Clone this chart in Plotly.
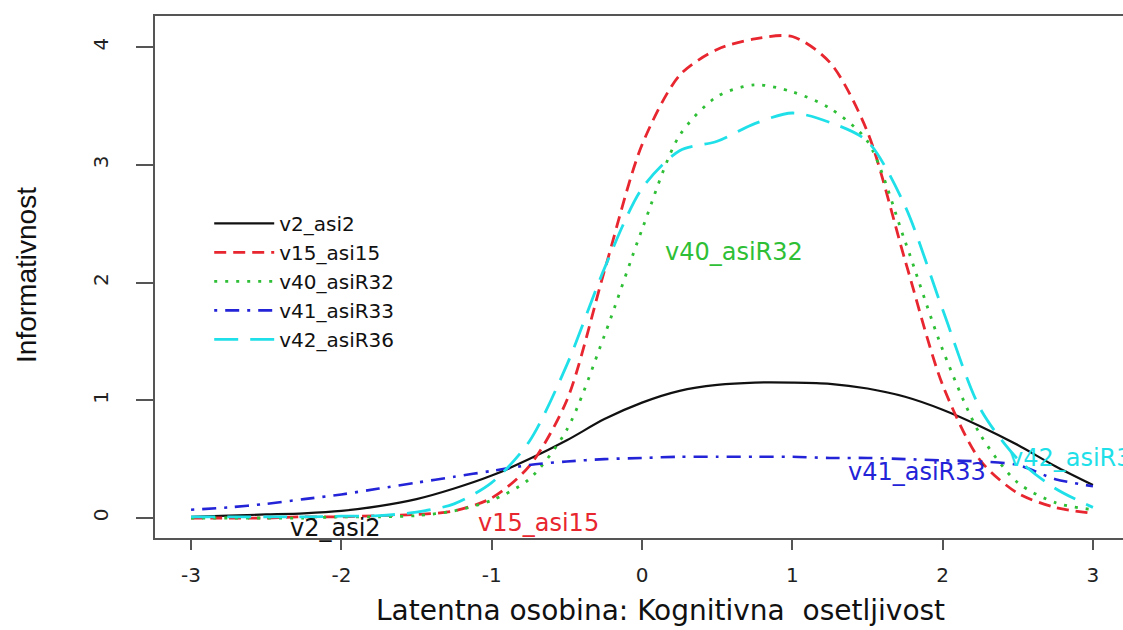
import plotly.graph_objects as go

theta = [-3, -2.75, -2.5, -2.25, -2, -1.75, -1.5, -1.25, -1, -0.75, -0.5, -0.25,
         0, 0.25, 0.5, 0.75, 1, 1.25, 1.5, 1.75, 2, 2.25, 2.5, 2.75, 3]

v2_asi2 = [0.01, 0.02, 0.03, 0.04, 0.06, 0.10, 0.16, 0.25, 0.36, 0.50, 0.66, 0.84,
           0.98, 1.08, 1.13, 1.15, 1.15, 1.14, 1.10, 1.03, 0.92, 0.78, 0.62, 0.44, 0.28]
v15_asi15 = [0.0, 0.0, 0.0, 0.01, 0.01, 0.02, 0.03, 0.06, 0.17, 0.44, 1.0, 2.1,
             3.17, 3.76, 3.98, 4.07, 4.09, 3.87, 3.28, 2.19, 1.13, 0.49, 0.21, 0.09, 0.04]
v40_asiR32 = [0.0, 0.0, 0.0, 0.0, 0.01, 0.01, 0.02, 0.06, 0.15, 0.33, 0.75, 1.55,
              2.45, 3.25, 3.58, 3.68, 3.62, 3.48, 3.2, 2.35, 1.43, 0.71, 0.3, 0.13, 0.07]
v41_asiR33 = [0.07, 0.09, 0.12, 0.16, 0.20, 0.25, 0.30, 0.35, 0.40, 0.45, 0.48, 0.50,
              0.51, 0.52, 0.52, 0.52, 0.52, 0.51, 0.51, 0.50, 0.49, 0.48, 0.45, 0.33, 0.27]
v42_asiR36 = [0.01, 0.01, 0.01, 0.01, 0.015, 0.02, 0.05, 0.12, 0.30, 0.65, 1.3, 2.12,
              2.8, 3.12, 3.2, 3.35, 3.44, 3.36, 3.2, 2.65, 1.77, 0.93, 0.5, 0.25, 0.09]

names = ["v2_asi2", "v15_asi15", "v40_asiR32", "v41_asiR33", "v42_asiR36"]
series = [v2_asi2, v15_asi15, v40_asiR32, v41_asiR33, v42_asiR36]
colors = ["#111111", "#E8262F", "#2FBF36", "#2323D8", "#1FE0E8"]
dashes = ["solid", "12px,7px", "3px,8px", "3px,8px,14px,8px", "24px,12px"]
widths = [2.2, 2.8, 2.8, 2.6, 2.8]

# label positions (x, y) for the in-plot curve labels
label_x = [-2.04, -0.69, 0.61, 1.83, 2.43]
label_y = [-0.085, -0.04, 2.26, 0.39, 0.51]

fig = go.Figure()
for n, s, c, d, w in zip(names, series, colors, dashes, widths):
    fig.add_trace(go.Scatter(
        x=theta, y=s, name=n, mode="lines",
        line=dict(color=c, dash=d, width=w, shape="spline", smoothing=0.8),
    ))

font_fam = "DejaVu Sans, Liberation Sans, Arial, sans-serif"

for i, (n, c) in enumerate(zip(names, colors)):
    fig.add_annotation(
        x=label_x[i], y=label_y[i], text=n, showarrow=False,
        xanchor="left" if i == 4 else "center", yanchor="middle",
        font=dict(family=font_fam, size=24, color=c),
    )

fig.add_annotation(
    xref="paper", yref="paper", x=0, y=0.504, xshift=-128,
    text="Informativnost", textangle=-90, showarrow=False,
    xanchor="center", yanchor="middle",
    font=dict(family="Liberation Sans Narrow, Liberation Sans, Arial", size=28, color="#111"),
)
fig.add_annotation(
    xref="paper", yref="paper", x=0.522, y=0, yshift=-72,
    text="Latentna osobina: Kognitivna  osetljivost", showarrow=False,
    xanchor="center", yanchor="middle",
    font=dict(family=font_fam, size=28, color="#111"),
)

fig.update_layout(
    width=1123, height=630,
    margin=dict(l=155, r=0, t=16, b=92),
    paper_bgcolor="white", plot_bgcolor="white",
    showlegend=True,
    legend=dict(
        x=0.056, y=0.64, xanchor="left", yanchor="top",
        bgcolor="rgba(0,0,0,0)", borderwidth=0,
        font=dict(family=font_fam, size=20, color="#111"),
        tracegroupgap=0, itemwidth=60,
    ),
)
fig.update_xaxes(
    range=[-3.24, 3.20], tickvals=[-3, -2, -1, 0, 1, 2, 3],
    ticktext=["-3", "-2", "-1", "0", "1", "2", "3"],
    showgrid=False, zeroline=False,
    showline=True, linecolor="#555", linewidth=2, mirror=True,
    ticks="outside", ticklen=10, tickwidth=2, tickcolor="#555",
    ticklabelstandoff=8,
    tickfont=dict(family=font_fam, size=20, color="#222"),
)
fig.update_yaxes(
    range=[-0.17, 4.264], tickvals=[0, 1, 2, 3, 4],
    showgrid=False, zeroline=False,
    showline=True, linecolor="#555", linewidth=2, mirror=False,
    ticks="outside", ticklen=17, tickwidth=2, tickcolor="#555",
    tickangle=-90, ticklabelstandoff=20,
    tickfont=dict(family=font_fam, size=20, color="#222"),
)

fig.write_html("out.html")
